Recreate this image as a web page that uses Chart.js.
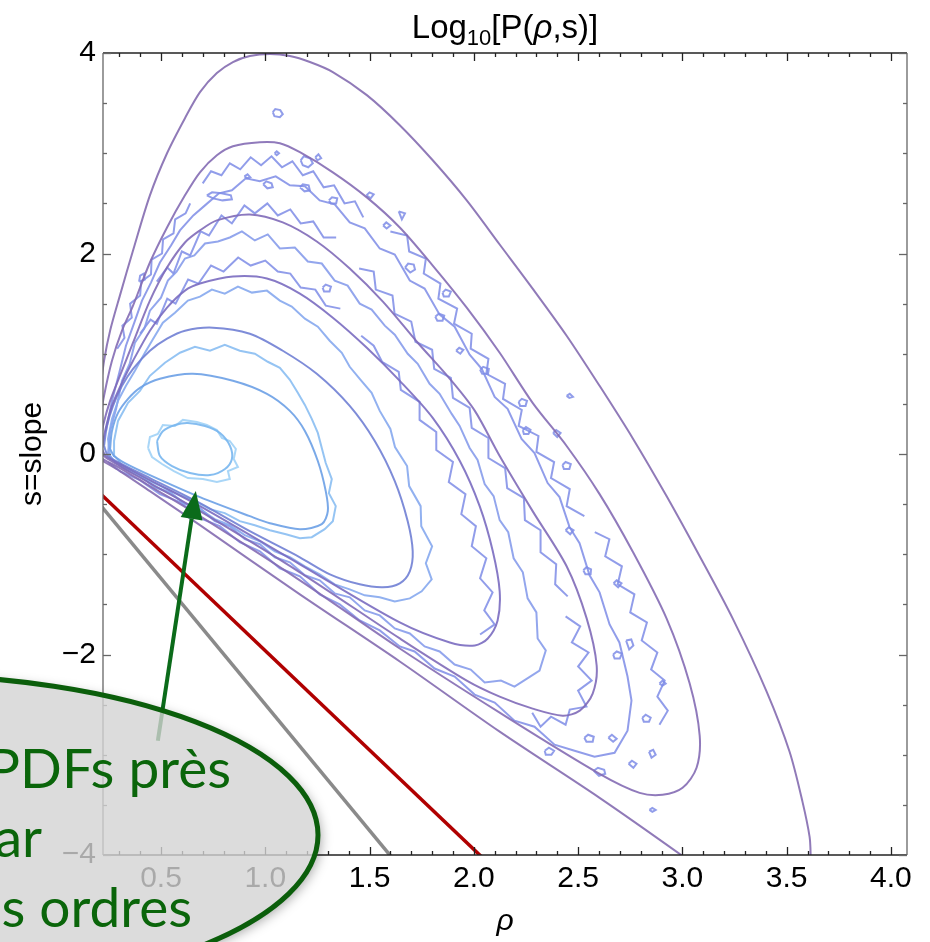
<!DOCTYPE html>
<html>
<head>
<meta charset="utf-8">
<script src="https://cdn.jsdelivr.net/npm/chart.js@4.4.1/dist/chart.umd.min.js"></script>
<style>
  html, body { margin: 0; padding: 0; background: #fff; }
  #wrap { width: 930px; height: 942px; position: relative; }
</style>
</head>
<body>
<div id="wrap"><canvas id="pdf"></canvas></div>
<script>
// log10 P(rho, s) contours, points are [rho, s]
// smooth lines: theory, outermost level first
const theory1 = [[3.083,-4.14],[3.001,-4.01],[2.603,-3.43],[2.124,-2.77],[1.645,-2.07],[1.166,-1.40],[0.687,-0.71],[0.447,-0.37],[0.303,-0.17],[0.222,-0.07],[0.188,-0.02],[0.188,0.13],[0.193,0.43],[0.208,0.63],[0.227,0.93],[0.256,1.23],[0.303,1.58],[0.366,2.03],[0.447,2.58],[0.529,3.00],[0.615,3.35],[0.687,3.61],[0.768,3.80],[0.845,3.91],[0.926,3.97],[1.022,3.99],[1.118,3.97],[1.214,3.91],[1.324,3.81],[1.487,3.58],[1.645,3.28],[1.803,2.93],[1.966,2.53],[2.124,2.09],[2.282,1.65],[2.445,1.18],[2.603,0.68],[2.761,0.16],[2.924,-0.42],[3.083,-1.02],[3.241,-1.64],[3.404,-2.37],[3.514,-2.97],[3.576,-3.47],[3.610,-3.82],[3.615,-4.01],[3.615,-4.21]];
const theory2 = [[0.198,0.08],[0.208,0.33],[0.227,0.58],[0.265,0.93],[0.313,1.23],[0.366,1.48],[0.447,1.91],[0.529,2.26],[0.615,2.58],[0.687,2.81],[0.768,2.98],[0.845,3.07],[0.974,3.11],[1.070,3.10],[1.166,3.01],[1.324,2.81],[1.487,2.56],[1.645,2.26],[1.803,1.88],[1.966,1.46],[2.124,1.01],[2.282,0.51],[2.445,0.08],[2.603,-0.40],[2.761,-0.97],[2.924,-1.64],[3.035,-2.29],[3.083,-2.81],[3.068,-3.13],[3.001,-3.33],[2.905,-3.40],[2.795,-3.38],[2.603,-3.19],[2.124,-2.58],[1.645,-1.94],[1.166,-1.26],[0.687,-0.62],[0.447,-0.32],[0.303,-0.14],[0.222,-0.05],[0.198,0.01],[0.198,0.08]];
const theory3 = [[0.208,0.08],[0.222,0.28],[0.256,0.53],[0.303,0.78],[0.366,1.11],[0.447,1.53],[0.529,1.86],[0.615,2.11],[0.687,2.23],[0.768,2.33],[0.926,2.39],[1.084,2.31],[1.247,2.12],[1.405,1.85],[1.564,1.52],[1.727,1.12],[1.885,0.75],[2.005,0.43],[2.124,-0.02],[2.282,-0.57],[2.445,-1.12],[2.541,-1.64],[2.589,-2.11],[2.570,-2.39],[2.508,-2.56],[2.426,-2.61],[2.282,-2.54],[2.124,-2.42],[1.966,-2.26],[1.645,-1.84],[1.166,-1.18],[0.687,-0.57],[0.447,-0.29],[0.303,-0.12],[0.232,-0.03],[0.208,0.03],[0.208,0.08]];
const theory4 = [[0.217,0.05],[0.232,0.23],[0.265,0.48],[0.313,0.71],[0.366,0.93],[0.447,1.23],[0.529,1.46],[0.615,1.63],[0.687,1.70],[0.845,1.77],[1.008,1.75],[1.166,1.60],[1.324,1.36],[1.487,1.06],[1.645,0.73],[1.803,0.36],[1.933,-0.07],[2.028,-0.52],[2.091,-0.97],[2.124,-1.37],[2.114,-1.66],[2.067,-1.84],[2.005,-1.91],[1.885,-1.88],[1.645,-1.68],[1.166,-1.10],[0.687,-0.52],[0.447,-0.26],[0.303,-0.10],[0.236,-0.02],[0.217,0.05]];
const theory5 = [[0.227,0.08],[0.241,0.28],[0.270,0.48],[0.313,0.68],[0.366,0.85],[0.447,1.03],[0.529,1.15],[0.615,1.23],[0.749,1.26],[0.926,1.20],[1.084,1.03],[1.247,0.80],[1.405,0.48],[1.525,0.13],[1.621,-0.27],[1.683,-0.67],[1.707,-0.97],[1.693,-1.17],[1.645,-1.29],[1.564,-1.33],[1.453,-1.30],[1.310,-1.20],[1.166,-1.03],[0.926,-0.77],[0.687,-0.49],[0.447,-0.24],[0.303,-0.09],[0.246,-0.02],[0.227,0.08]];
const theory6 = [[0.256,0.05],[0.265,0.23],[0.294,0.41],[0.342,0.55],[0.399,0.66],[0.495,0.75],[0.653,0.80],[0.845,0.73],[1.008,0.60],[1.118,0.43],[1.190,0.23],[1.252,-0.07],[1.290,-0.37],[1.300,-0.57],[1.271,-0.70],[1.166,-0.75],[1.022,-0.69],[0.926,-0.62],[0.687,-0.43],[0.447,-0.21],[0.327,-0.09],[0.275,-0.02],[0.256,0.05]];
const theory7 = [[0.481,0.13],[0.510,0.23],[0.567,0.29],[0.629,0.31],[0.711,0.28],[0.783,0.21],[0.831,0.08],[0.840,-0.05],[0.807,-0.15],[0.735,-0.21],[0.639,-0.19],[0.553,-0.12],[0.495,-0.02],[0.481,0.13]];

// jagged lines: simulation histogram contours
const sim7 = [[0.438,0.06],[0.447,0.17],[0.485,0.20],[0.509,0.29],[0.567,0.28],[0.605,0.34],[0.672,0.32],[0.720,0.29],[0.768,0.24],[0.792,0.16],[0.830,0.13],[0.859,0.05],[0.849,-0.05],[0.869,-0.13],[0.821,-0.17],[0.830,-0.25],[0.768,-0.28],[0.701,-0.25],[0.629,-0.24],[0.562,-0.17],[0.505,-0.10],[0.457,-0.03],[0.438,0.06]];
const sim6 = [[0.279,-0.02],[0.275,0.13],[0.294,0.33],[0.342,0.51],[0.399,0.63],[0.447,0.78],[0.519,0.91],[0.591,1.01],[0.663,1.07],[0.735,1.03],[0.806,1.09],[0.878,1.03],[0.950,1.00],[1.012,0.92],[1.070,0.86],[1.118,0.74],[1.156,0.61],[1.190,0.49],[1.223,0.35],[1.252,0.21],[1.271,0.06],[1.290,-0.09],[1.319,-0.25],[1.305,-0.39],[1.338,-0.52],[1.324,-0.67],[1.285,-0.75],[1.223,-0.83],[1.166,-0.84],[1.099,-0.80],[1.022,-0.76],[0.950,-0.71],[0.878,-0.67],[0.806,-0.59],[0.735,-0.55],[0.663,-0.47],[0.591,-0.41],[0.519,-0.34],[0.447,-0.27],[0.375,-0.19],[0.313,-0.11],[0.279,-0.02]];
const sim5 = [[0.256,-0.02],[0.246,0.15],[0.265,0.35],[0.294,0.53],[0.332,0.68],[0.375,0.83],[0.423,1.01],[0.457,1.13],[0.509,1.31],[0.567,1.41],[0.629,1.53],[0.687,1.57],[0.744,1.64],[0.806,1.60],[0.869,1.67],[0.936,1.61],[1.008,1.63],[1.070,1.53],[1.127,1.47],[1.190,1.35],[1.252,1.27],[1.309,1.13],[1.367,1.01],[1.405,0.87],[1.453,0.75],[1.510,0.61],[1.549,0.43],[1.600,0.25],[1.622,0.07],[1.680,-0.12],[1.690,-0.32],[1.745,-0.52],[1.748,-0.72],[1.800,-0.92],[1.770,-1.09],[1.798,-1.25],[1.750,-1.37],[1.693,-1.44],[1.621,-1.47],[1.549,-1.43],[1.477,-1.41],[1.405,-1.35],[1.333,-1.30],[1.261,-1.20],[1.190,-1.12],[1.118,-1.03],[1.046,-0.97],[0.974,-0.87],[0.902,-0.81],[0.830,-0.71],[0.758,-0.65],[0.687,-0.55],[0.615,-0.49],[0.543,-0.39],[0.471,-0.33],[0.399,-0.22],[0.327,-0.15],[0.279,-0.08],[0.256,-0.02]];
const sim4 = [[0.246,0.01],[0.256,0.23],[0.285,0.45],[0.313,0.73],[0.350,0.90],[0.375,1.11],[0.420,1.25],[0.447,1.43],[0.500,1.56],[0.533,1.73],[0.575,1.82],[0.615,1.95],[0.660,1.98],[0.711,2.10],[0.773,2.12],[0.830,2.16],[0.888,2.22],[0.950,2.13],[1.012,2.19],[1.070,2.05],[1.142,2.06],[1.204,1.92],[1.271,1.90],[1.333,1.73],[1.395,1.68],[1.453,1.50],[1.510,1.44],[1.573,1.28],[1.621,1.19],[1.683,1.00],[1.731,0.90],[1.788,0.70],[1.836,0.60],[1.894,0.40],[1.932,0.28],[1.980,0.06],[2.018,-0.06],[2.052,-0.30],[2.095,-0.42],[2.124,-0.66],[2.165,-0.78],[2.191,-1.04],[2.235,-1.18],[2.258,-1.44],[2.300,-1.58],[2.306,-1.84],[2.345,-1.96],[2.315,-2.16],[2.270,-2.22],[2.195,-2.32],[2.130,-2.26],[2.052,-2.28],[1.985,-2.15],[1.908,-2.10],[1.836,-1.97],[1.764,-1.92],[1.693,-1.79],[1.621,-1.74],[1.549,-1.61],[1.477,-1.56],[1.405,-1.43],[1.333,-1.39],[1.261,-1.26],[1.190,-1.21],[1.118,-1.08],[1.046,-1.03],[0.974,-0.90],[0.902,-0.85],[0.830,-0.72],[0.758,-0.67],[0.687,-0.54],[0.615,-0.50],[0.543,-0.38],[0.471,-0.33],[0.399,-0.22],[0.327,-0.14],[0.275,-0.07],[0.246,0.01]];
const sim3 = [[0.236,0.23],[0.265,0.53],[0.300,0.81],[0.332,1.08],[0.372,1.31],[0.409,1.53],[0.452,1.71],[0.495,1.91],[0.548,2.08],[0.591,2.23],[0.655,2.38],[0.711,2.48],[0.778,2.60],[0.840,2.63],[0.907,2.75],[0.974,2.72],[1.050,2.77],[1.118,2.68],[1.190,2.67],[1.261,2.53],[1.333,2.49],[1.405,2.31],[1.477,2.25],[1.549,2.05],[1.621,1.99],[1.693,1.73],[1.764,1.65],[1.836,1.39],[1.908,1.27],[1.980,0.99],[2.038,0.85],[2.100,0.57],[2.162,0.45],[2.229,0.15],[2.291,0.01],[2.354,-0.29],[2.411,-0.43],[2.459,-0.73],[2.507,-0.89],[2.555,-1.21],[2.603,-1.38],[2.651,-1.70],[2.698,-1.88],[2.737,-2.22],[2.756,-2.46],[2.737,-2.76],[2.675,-2.98],[2.579,-3.02],[2.483,-2.96],[2.387,-2.90],[2.291,-2.72],[2.195,-2.66],[2.100,-2.48],[2.004,-2.40],[1.908,-2.22],[1.812,-2.14],[1.716,-1.97],[1.645,-1.92],[1.549,-1.76],[1.453,-1.66],[1.357,-1.50],[1.261,-1.40],[1.166,-1.22],[1.070,-1.14],[0.974,-0.97],[0.878,-0.88],[0.782,-0.72],[0.687,-0.64],[0.591,-0.48],[0.495,-0.40],[0.399,-0.26],[0.303,-0.17],[0.246,-0.08]];

// broken pieces of the simulation contours between the levels above
const fragments = [
  [[0.290,1.05],[0.325,1.16],[0.315,1.28],[0.360,1.36],[0.352,1.50],[0.400,1.58],[0.405,1.72],[0.452,1.79],[0.455,1.94],[0.505,2.00],[0.510,2.14],[0.560,2.20],[0.568,2.34],[0.618,2.40],[0.640,2.50]],
  [[0.700,2.70],[0.740,2.82],[0.790,2.78],[0.830,2.90],[0.880,2.84],[0.930,2.96],[0.980,2.88],[1.030,2.97],[1.080,2.86],[1.130,2.92],[1.180,2.78],[1.230,2.82],[1.280,2.66],[1.330,2.68],[1.380,2.50],[1.430,2.52],[1.470,2.36]],
  [[1.600,2.22],[1.680,2.18],[1.690,2.02],[1.770,1.95],[1.760,1.80],[1.840,1.70],[1.830,1.55],[1.920,1.45],[1.905,1.30],[1.990,1.20],[1.985,1.05],[2.070,0.95],[2.060,0.80],[2.150,0.70],[2.140,0.55],[2.230,0.44],[2.215,0.28],[2.310,0.18],[2.300,0.02],[2.385,-0.08],[2.370,-0.24],[2.460,-0.35],[2.445,-0.52],[2.530,-0.62]],
  [[2.580,-0.78],[2.650,-0.85],[2.630,-1.02],[2.710,-1.12],[2.690,-1.30],[2.770,-1.40],[2.750,-1.58],[2.830,-1.68],[2.805,-1.86],[2.880,-1.98],[2.850,-2.15],[2.915,-2.26],[2.880,-2.42],[2.930,-2.56],[2.890,-2.70]],
  [[0.480,1.72],[0.530,1.86],[0.560,1.80],[0.600,2.02],[0.640,1.98],[0.690,2.22],[0.730,2.18],[0.790,2.38],[0.840,2.30],[0.900,2.48],[0.950,2.40],[1.010,2.50],[1.060,2.38],[1.120,2.44],[1.170,2.30],[1.230,2.32],[1.280,2.16],[1.340,2.16]],
  [[1.450,1.85],[1.520,1.82],[1.530,1.64],[1.610,1.58],[1.620,1.40],[1.700,1.32],[1.720,1.12],[1.800,1.04],[1.810,0.85],[1.890,0.76],[1.900,0.56],[1.980,0.46],[1.990,0.26],[2.070,0.16],[2.070,-0.04],[2.150,-0.14],[2.160,-0.34],[2.240,-0.44],[2.245,-0.66],[2.320,-0.76],[2.320,-0.98],[2.395,-1.10],[2.390,-1.30],[2.450,-1.42]],
  [[2.440,-1.62],[2.510,-1.72],[2.470,-1.88],[2.550,-1.98],[2.500,-2.12],[2.565,-2.26],[2.500,-2.36],[2.540,-2.52],[2.460,-2.55],[2.440,-2.70],[2.370,-2.62],[2.320,-2.72],[2.280,-2.58]],
  [[1.460,1.18],[1.520,1.08],[1.560,0.92],[1.640,0.82],[1.650,0.64],[1.740,0.52],[1.740,0.34],[1.820,0.22],[1.820,0.04],[1.900,-0.08],[1.880,-0.28],[1.960,-0.40],[1.940,-0.60],[2.010,-0.72],[1.990,-0.92],[2.060,-1.04],[2.030,-1.24],[2.090,-1.38],[2.050,-1.56],[2.100,-1.70],[2.030,-1.80]],
  [[0.400,1.20],[0.450,1.34],[0.480,1.30],[0.530,1.55],[0.570,1.50],[0.630,1.74],[0.680,1.70],[0.740,1.88],[0.800,1.82],[0.870,1.96],[0.930,1.88],[1.000,1.93],[1.060,1.82],[1.120,1.80],[1.170,1.66],[1.240,1.64],[1.290,1.48],[1.360,1.45]]
];

// small closed islands of the simulation contours
const islands = [
  [[1.036,3.41],[1.048,3.44],[1.072,3.43],[1.084,3.39],[1.070,3.36],[1.044,3.37],[1.036,3.41]],
  [[1.045,3.00],[1.055,3.02],[1.066,3.00],[1.055,2.98],[1.045,3.00]],
  [[1.170,2.93],[1.185,2.97],[1.215,2.95],[1.228,2.90],[1.206,2.86],[1.180,2.88],[1.170,2.93]],
  [[1.240,2.96],[1.255,2.99],[1.268,2.95],[1.250,2.93],[1.240,2.96]],
  [[0.900,2.77],[0.915,2.79],[0.928,2.76],[0.912,2.75],[0.900,2.77]],
  [[0.990,2.69],[1.005,2.72],[1.030,2.70],[1.036,2.66],[1.010,2.65],[0.990,2.69]],
  [[1.166,2.66],[1.180,2.69],[1.208,2.68],[1.214,2.63],[1.188,2.62],[1.166,2.66]],
  [[1.305,2.53],[1.320,2.56],[1.345,2.55],[1.340,2.50],[1.315,2.50],[1.305,2.53]],
  [[1.485,2.58],[1.500,2.61],[1.520,2.59],[1.505,2.55],[1.485,2.58]],
  [[1.640,2.42],[1.670,2.40],[1.655,2.34],[1.640,2.42]],
  [[1.565,2.28],[1.580,2.31],[1.600,2.28],[1.582,2.25],[1.565,2.28]],
  [[1.670,1.86],[1.685,1.90],[1.712,1.89],[1.718,1.84],[1.695,1.81],[1.670,1.86]],
  [[1.850,1.61],[1.865,1.64],[1.890,1.62],[1.880,1.57],[1.856,1.57],[1.850,1.61]],
  [[1.815,1.37],[1.832,1.40],[1.858,1.38],[1.850,1.33],[1.825,1.33],[1.815,1.37]],
  [[2.030,0.84],[2.045,0.87],[2.072,0.85],[2.068,0.80],[2.040,0.80],[2.030,0.84]],
  [[1.915,1.03],[1.930,1.06],[1.950,1.04],[1.935,1.00],[1.915,1.03]],
  [[2.445,0.58],[2.460,0.60],[2.475,0.57],[2.458,0.56],[2.445,0.58]],
  [[2.215,0.52],[2.230,0.55],[2.255,0.53],[2.248,0.48],[2.222,0.48],[2.215,0.52]],
  [[2.235,0.24],[2.250,0.27],[2.272,0.24],[2.262,0.20],[2.240,0.20],[2.235,0.24]],
  [[2.380,0.21],[2.395,0.24],[2.416,0.21],[2.400,0.17],[2.380,0.21]],
  [[2.425,-0.11],[2.440,-0.08],[2.465,-0.10],[2.458,-0.15],[2.432,-0.15],[2.425,-0.11]],
  [[2.440,-0.76],[2.455,-0.73],[2.478,-0.76],[2.462,-0.80],[2.440,-0.76]],
  [[2.525,-1.16],[2.540,-1.13],[2.562,-1.15],[2.560,-1.20],[2.535,-1.20],[2.525,-1.16]],
  [[2.670,-1.29],[2.685,-1.26],[2.708,-1.29],[2.692,-1.33],[2.670,-1.29]],
  [[2.730,-1.86],[2.755,-1.85],[2.765,-1.91],[2.745,-1.95],[2.730,-1.86]],
  [[2.668,-2.00],[2.685,-1.97],[2.710,-1.99],[2.700,-2.04],[2.675,-2.04],[2.668,-2.00]],
  [[2.890,-2.29],[2.905,-2.26],[2.920,-2.29],[2.905,-2.31],[2.890,-2.29]],
  [[2.808,-2.63],[2.824,-2.60],[2.848,-2.63],[2.840,-2.67],[2.815,-2.67],[2.808,-2.63]],
  [[2.840,-2.97],[2.860,-2.95],[2.872,-3.00],[2.852,-3.03],[2.840,-2.97]],
  [[2.742,-3.09],[2.758,-3.06],[2.780,-3.09],[2.765,-3.13],[2.742,-3.09]],
  [[2.842,-3.55],[2.856,-3.53],[2.872,-3.55],[2.856,-3.57],[2.842,-3.55]],
  [[2.530,-2.83],[2.548,-2.80],[2.575,-2.82],[2.570,-2.87],[2.540,-2.87],[2.530,-2.83]],
  [[2.645,-2.83],[2.662,-2.80],[2.685,-2.84],[2.668,-2.87],[2.645,-2.83]],
  [[2.575,-3.16],[2.595,-3.13],[2.625,-3.15],[2.630,-3.19],[2.600,-3.21],[2.575,-3.16]],
  [[2.340,-2.96],[2.360,-2.93],[2.385,-2.96],[2.372,-3.00],[2.345,-3.00],[2.340,-2.96]],
  [[1.275,1.66],[1.290,1.69],[1.315,1.67],[1.308,1.62],[1.282,1.62],[1.275,1.66]],
  [[0.395,1.72],[0.400,1.78],[0.418,1.80],[0.422,1.74],[0.395,1.72]],
  [[0.720,2.58],[0.745,2.61],[0.790,2.60],[0.835,2.58],[0.840,2.54],[0.795,2.53],[0.750,2.55],[0.720,2.58]]
];

// straight reference lines
const redLine = [[0.20,-0.376],[2.06,-4.063]];
const grayLine = [[0.20,-0.485],[1.61,-4.032]];

// callout arrow, data units
const arrowTail = [0.485,-2.86];
const arrowTip = [0.667,-0.37];

const FONT = '"Liberation Sans", Arial, Helvetica, sans-serif';

const isStep = (v, step) => Math.abs(v / step - Math.round(v / step)) < 1e-6;

function curve(pts, color, width, tension) {
  return {
    data: pts.map(([x, y]) => ({x, y})),
    showLine: true,
    borderColor: color,
    borderWidth: width,
    pointRadius: 0,
    tension: tension,
    fill: false,
    clip: 0
  };
}

const noiseBlue = 'rgba(126,140,230,0.85)';

// first dataset is drawn on top
const datasets = [
  curve(redLine, '#b00000', 3.5, 0),
  curve(grayLine, '#8a8a8a', 3.5, 0),
  curve(theory1, 'rgba(132,108,176,0.9)', 2, 0.3),
  curve(theory2, 'rgba(132,108,180,0.9)', 2, 0.3),
  curve(theory3, 'rgba(128,106,184,0.9)', 2, 0.3),
  curve(theory4, 'rgba(122,108,192,0.9)', 2, 0.3),
  curve(theory5, 'rgba(112,128,212,0.9)', 2, 0.3),
  curve(theory6, 'rgba(108,160,230,0.9)', 2, 0.3),
  curve(theory7, 'rgba(120,182,238,0.9)', 2, 0.3),
  curve(sim7, 'rgba(160,210,246,0.9)', 2, 0),
  curve(sim6, 'rgba(138,190,242,0.9)', 2, 0),
  curve(sim5, 'rgba(134,168,238,0.9)', 2, 0),
  curve(sim4, 'rgba(128,150,234,0.85)', 2, 0),
  curve(sim3, noiseBlue, 2, 0),
  ...fragments.map(p => curve(p, noiseBlue, 2, 0)),
  ...islands.map(p => curve(p, noiseBlue, 2, 0))
];

// plot title with subscript
const plotTitle = {
  id: 'plotTitle',
  afterDraw(chart) {
    const {ctx, chartArea} = chart;
    const parts = [
      {t: 'Log', f: '33px ' + FONT, dy: 0},
      {t: '10', f: '22px ' + FONT, dy: 7},
      {t: '[P(', f: '33px ' + FONT, dy: 0},
      {t: 'ρ', f: 'italic 33px ' + FONT, dy: 0},
      {t: ',s)]', f: '33px ' + FONT, dy: 0}
    ];
    ctx.save();
    let w = 0;
    parts.forEach(p => { ctx.font = p.f; p.w = ctx.measureText(p.t).width; w += p.w; });
    let x = (chartArea.left + chartArea.right) / 2 - w / 2;
    ctx.fillStyle = '#000';
    ctx.textBaseline = 'alphabetic';
    ctx.textAlign = 'left';
    parts.forEach(p => { ctx.font = p.f; ctx.fillText(p.t, x, 38 + p.dy); x += p.w; });
    ctx.restore();
  }
};

// frame with inward ticks on all four sides
const frameTicks = {
  id: 'frameTicks',
  afterDatasetsDraw(chart) {
    const {ctx, chartArea: a, scales: {x, y}} = chart;
    const seg = (x1, y1, x2, y2) => { ctx.beginPath(); ctx.moveTo(x1, y1); ctx.lineTo(x2, y2); ctx.stroke(); };
    ctx.save();
    ctx.lineWidth = 1.3;
    ctx.strokeStyle = '#222';
    x.ticks.forEach(t => {
      const px = Math.round(x.getPixelForValue(t.value)) + 0.5;
      const len = isStep(t.value, 0.5) ? 8 : 4;
      seg(px, a.bottom, px, a.bottom - len);
      seg(px, a.top, px, a.top + len);
    });
    seg(a.left, a.top, a.right, a.top);
    seg(a.left, a.bottom, a.right, a.bottom);
    ctx.strokeStyle = '#666';
    y.ticks.forEach(t => {
      const py = Math.round(y.getPixelForValue(t.value)) + 0.5;
      const len = isStep(t.value, 2) ? 8 : 4;
      seg(a.left, py, a.left + len, py);
      seg(a.right, py, a.right - len, py);
    });
    seg(a.left, a.top, a.left, a.bottom);
    seg(a.right, a.top, a.right, a.bottom);
    ctx.restore();
  }
};

// green arrow and the grey speech bubble laid over the plot
const callout = {
  id: 'callout',
  afterDraw(chart) {
    const {ctx, scales: {x, y}} = chart;
    const tx = x.getPixelForValue(arrowTip[0]), ty = y.getPixelForValue(arrowTip[1]);
    const bx = x.getPixelForValue(arrowTail[0]), by = y.getPixelForValue(arrowTail[1]);
    const ang = Math.atan2(ty - by, tx - bx);
    const headLen = 28, headHalf = 11;
    const hx = tx - headLen * Math.cos(ang), hy = ty - headLen * Math.sin(ang);
    ctx.save();
    ctx.strokeStyle = '#0b6b1a';
    ctx.fillStyle = '#0b6b1a';
    ctx.lineWidth = 4;
    ctx.beginPath(); ctx.moveTo(bx, by); ctx.lineTo(hx, hy); ctx.stroke();
    ctx.beginPath();
    ctx.moveTo(tx, ty);
    ctx.lineTo(hx + headHalf * Math.sin(ang), hy - headHalf * Math.cos(ang));
    ctx.lineTo(hx - headHalf * Math.sin(ang), hy + headHalf * Math.cos(ang));
    ctx.closePath();
    ctx.fill();
    ctx.restore();

    const cx = -100, cy = 835, rx = 418, ry = 160;
    // drop shadow outside the bubble only
    ctx.save();
    ctx.beginPath();
    ctx.rect(-50, 500, 1000, 500);
    ctx.ellipse(cx, cy, rx, ry, 0, 0, Math.PI * 2);
    ctx.clip('evenodd');
    ctx.shadowColor = 'rgba(0,0,0,0.35)';
    ctx.shadowBlur = 12;
    ctx.shadowOffsetX = 3;
    ctx.shadowOffsetY = 3;
    ctx.beginPath();
    ctx.ellipse(cx, cy, rx, ry, 0, 0, Math.PI * 2);
    ctx.fillStyle = '#ccc';
    ctx.fill();
    ctx.restore();

    ctx.save();
    ctx.beginPath();
    ctx.ellipse(cx, cy, rx, ry, 0, 0, Math.PI * 2);
    ctx.fillStyle = 'rgba(211,211,211,0.8)';
    ctx.fill();
    ctx.lineWidth = 5;
    ctx.strokeStyle = '#0b5e0b';
    ctx.stroke();
    ctx.fillStyle = '#0a650a';
    ctx.font = '55px Lato, "Open Sans", sans-serif';
    ctx.textAlign = 'right';
    ctx.textBaseline = 'alphabetic';
    ctx.fillText('PDFs près', 231, 788);
    ctx.fillText('ar', 42, 857);
    ctx.fillText('s ordres', 192, 927);
    ctx.restore();
  }
};

const whiteBg = {
  id: 'whiteBg',
  beforeDraw(chart) {
    const {ctx, width, height} = chart;
    ctx.save();
    ctx.fillStyle = '#fff';
    ctx.fillRect(0, 0, width, height);
    ctx.restore();
  }
};

new Chart(document.getElementById('pdf'), {
  type: 'scatter',
  data: { datasets },
  options: {
    responsive: true,
    maintainAspectRatio: false,
    animation: false,
    events: [],
    layout: { padding: { top: 53, right: 23, left: 0, bottom: 0 } },
    plugins: { legend: { display: false }, tooltip: { enabled: false } },
    scales: {
      x: {
        type: 'linear',
        min: 0.222,
        max: 4.077,
        grid: { display: false, drawTicks: false },
        border: { display: false },
        ticks: {
          stepSize: 0.1,
          autoSkip: false,
          maxRotation: 0,
          includeBounds: false,
          padding: 6,
          color: '#000',
          font: { family: FONT, size: 30 },
          callback: v => isStep(v, 0.5) ? v.toFixed(1) : ''
        },
        title: { display: true, text: 'ρ', color: '#000', font: { family: FONT, size: 30, style: 'italic' }, padding: { top: 0, bottom: 2 } },
        afterFit: s => { s.height = 87; }
      },
      y: {
        type: 'linear',
        min: -4,
        max: 4,
        grid: { display: false, drawTicks: false },
        border: { display: false },
        ticks: {
          stepSize: 0.5,
          autoSkip: false,
          padding: 7,
          color: '#000',
          font: { family: FONT, size: 30 },
          callback: v => isStep(v, 2) ? (v < 0 ? '\u2212' + (-v) : String(v)) : ''
        },
        title: { display: true, text: 's=slope', color: '#000', font: { family: FONT, size: 30 }, padding: { top: 15, bottom: 0 } },
        afterFit: s => { s.width = 103; }
      }
    }
  },
  plugins: [whiteBg, frameTicks, plotTitle, callout]
});
</script>
</body>
</html>
